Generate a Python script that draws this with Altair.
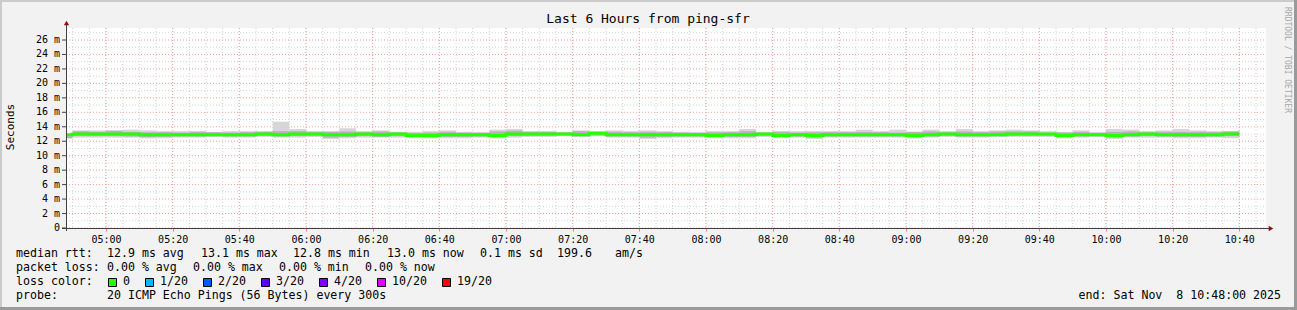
import altair as alt
import pandas as pd

FONT = "DejaVu Sans Mono"
BG = "#f2f2f2"
W, H = 1200, 200
PL, PT = 66, 28  # plot origin in page pixels

# ---- data: minutes after 04:48; 5-minute steps aligned on the clock (first one partial) ----
bin_start = [0] + list(range(2, 348, 5))
bin_end = [2] + list(range(7, 353, 5))
med = [12.9, 13.0, 13.0, 13.0, 13.0, 12.9, 12.9, 12.9, 12.9, 12.9, 12.9,
       12.9, 13.0, 12.9, 13.0, 13.0, 12.9, 12.9, 13.0, 12.9, 13.0,
       12.8, 12.8, 12.9, 12.9, 12.9, 12.8, 13.0, 13.0, 13.0, 13.0,
       12.9, 13.1, 12.9, 12.9, 12.9, 12.9, 12.9, 12.9, 12.8, 12.9,
       12.9, 13.0, 12.8, 12.9, 12.8, 12.9, 12.9, 12.9, 12.9, 12.9,
       12.8, 12.9, 13.0, 12.9, 12.9, 12.9, 13.0, 13.0, 13.0, 12.8,
       12.9, 12.9, 12.8, 12.9, 13.0, 12.9, 12.9, 12.9, 12.9, 13.0]
lo = [12.35, 12.5, 12.5, 12.5, 12.5, 12.4, 12.4, 12.5, 12.5, 12.6, 12.5,
      12.5, 12.6, 12.5, 12.5, 12.6, 12.3, 12.4, 12.5, 12.5, 12.5,
      12.5, 12.4, 12.4, 12.4, 12.5, 12.4, 12.5, 12.6, 12.6, 12.7,
      12.6, 12.7, 12.5, 12.5, 12.3, 12.4, 12.5, 12.5, 12.5, 12.4,
      12.4, 12.6, 12.5, 12.5, 12.3, 12.5, 12.5, 12.5, 12.5, 12.5,
      12.4, 12.5, 12.6, 12.5, 12.5, 12.6, 12.6, 12.6, 12.6, 12.4,
      12.5, 12.6, 12.3, 12.5, 12.5, 12.5, 12.4, 12.4, 12.5, 12.4]
hi = [13.0, 13.5, 13.5, 13.5, 13.6, 13.5, 13.4, 13.4, 13.4, 13.3, 13.4,
      13.4, 13.3, 14.7, 13.7, 13.4, 13.4, 13.8, 13.4, 13.5, 13.3,
      13.3, 13.4, 13.5, 13.3, 13.3, 13.6, 13.7, 13.4, 13.4, 13.3,
      13.5, 13.4, 13.5, 13.4, 13.5, 13.4, 13.3, 13.3, 13.4, 13.4,
      13.7, 13.3, 13.4, 13.4, 13.4, 13.4, 13.4, 13.6, 13.4, 13.6,
      13.3, 13.6, 13.4, 13.7, 13.4, 13.5, 13.6, 13.5, 13.4, 13.3,
      13.5, 13.3, 13.7, 13.6, 13.4, 13.5, 13.7, 13.5, 13.4, 13.4]
ihi = [12.95, 13.4, 13.3, 13.45, 13.3, 13.25, 13.25, 13.2, 13.3, 13.25, 13.2,
       13.25, 13.35, 13.4, 13.4, 13.25, 13.3, 13.35, 13.25, 13.35, 13.2,
       13.15, 13.2, 13.3, 13.2, 13.15, 13.35, 13.45, 13.3, 13.3, 13.2,
       13.4, 13.25, 13.3, 13.25, 13.3, 13.25, 13.2, 13.15, 13.25, 13.25,
       13.4, 13.15, 13.3, 13.2, 13.25, 13.25, 13.25, 13.3, 13.25, 13.2,
       13.3, 13.35, 13.25, 13.35, 13.25, 13.35, 13.35, 13.35, 13.15, 13.2,
       13.3, 13.15, 13.3, 13.35, 13.25, 13.3, 13.3, 13.3, 13.25, 13.35]
ilo = [12.45, 12.7, 12.7, 12.7, 12.65, 12.55, 12.6, 12.65, 12.65, 12.7, 12.65,
       12.65, 12.75, 12.65, 12.7, 12.75, 12.5, 12.6, 12.7, 12.6, 12.7,
       12.55, 12.55, 12.6, 12.6, 12.65, 12.55, 12.7, 12.75, 12.75, 12.8,
       12.7, 12.8, 12.65, 12.65, 12.5, 12.6, 12.65, 12.65, 12.55, 12.6,
       12.6, 12.75, 12.55, 12.65, 12.5, 12.65, 12.65, 12.65, 12.65, 12.65,
       12.55, 12.65, 12.75, 12.65, 12.65, 12.7, 12.75, 12.75, 12.75, 12.55,
       12.65, 12.7, 12.5, 12.65, 12.7, 12.65, 12.6, 12.6, 12.65, 12.7]

y_major = [0, 2, 4, 6, 8, 10, 12, 14, 16, 18, 20, 22, 24, 26]
y_labels = ["0\u00a0\u00a0", "2 m", "4 m", "6 m", "8 m", "10 m", "12 m", "14 m",
            "16 m", "18 m", "20 m", "22 m", "24 m", "26 m"]
y_minor = [1, 3, 5, 7, 9, 11, 13, 15, 17, 19, 21, 23, 25, 27]
x_major = list(range(12, 360, 20))      # 05:00, 05:20, ... 10:40
x_minor = list(range(2, 360, 5))        # every 5 minutes

loss_labels = ["0", "1/20", "2/20", "3/20", "4/20", "10/20", "19/20"]
loss_colors = ["#26ff00", "#00b8ff", "#0059ff", "#5e00ff", "#7e00ff", "#dd00ff", "#ff0000"]

bins = pd.DataFrame({"t0": bin_start, "t1": bin_end,
                     "med": med, "lo": lo, "hi": hi, "ilo": ilo, "ihi": ihi})
line_df = pd.DataFrame({"t": bin_start + [bin_end[-1]], "m": med + [med[-1]]})
ylab_df = pd.DataFrame({"v": y_major, "lab": y_labels})

xs = alt.Scale(domain=[0, 360], nice=False, zero=False)
ys = alt.Scale(domain=[0, 27.66], nice=False, zero=True)

one = pd.DataFrame({"k": [0]})


def Y(field):
    return alt.Y(field, scale=ys, title=None, axis=None)


def txt(s, x, y, size=11.6, align="left", color="black", angle=None, baseline="middle"):
    kw = dict(text=s, font=FONT, fontSize=size, align=align, baseline=baseline, color=color)
    if angle is not None:
        kw["angle"] = angle
    return alt.Chart(one).mark_text(**kw).encode(x=alt.value(x - PL), y=alt.value(y - PT))


def box(x0, y0, x1, y1, fill, stroke=None):
    kw = dict(fill=fill)
    if stroke:
        kw.update(stroke=stroke, strokeWidth=1)
    return alt.Chart(one).mark_rect(**kw).encode(
        x=alt.value(x0 - PL), x2=alt.value(x1 - PL), y=alt.value(y0 - PT), y2=alt.value(y1 - PT))


layers = []

# grid
layers.append(alt.Chart(pd.DataFrame({"v": x_minor})).mark_rule(
    color="#d2d2d2", strokeWidth=1, strokeDash=[1, 2]).encode(
    x=alt.X("v:Q", scale=xs, title=None), y=alt.value(0), y2=alt.value(H)))
layers.append(alt.Chart(pd.DataFrame({"v": y_minor})).mark_rule(
    color="#d2d2d2", strokeWidth=1, strokeDash=[1, 2]).encode(
    y=Y("v:Q"), x=alt.value(0), x2=alt.value(W)))
layers.append(alt.Chart(pd.DataFrame({"v": x_major})).mark_rule(
    color="#f4a0a0", strokeWidth=1, strokeDash=[1, 2]).encode(
    x=alt.X("v:Q", scale=xs, title=None,
            axis=alt.Axis(values=x_major, grid=False, domain=False, ticks=True, tickColor="#f08080",
                          tickSize=3, labelFont=FONT, labelFontSize=10, labelColor="black",
                          labelPadding=3, labelOverlap=False,
                          labelExpr="timeFormat(datetime(2025, 10, 8, 4, 48 + datum.value), '%H:%M')")),
    y=alt.value(0), y2=alt.value(H)))
layers.append(alt.Chart(pd.DataFrame({"v": y_major})).mark_rule(
    color="#f4a0a0", strokeWidth=1, strokeDash=[1, 2]).encode(
    y=Y("v:Q"), x=alt.value(0), x2=alt.value(W)))

# y ticks and labels
layers.append(alt.Chart(ylab_df).mark_rule(color="#444444", strokeWidth=1).encode(
    y=Y("v:Q"), x=alt.value(-4), x2=alt.value(0)))
layers.append(alt.Chart(ylab_df).mark_text(font=FONT, fontSize=10, align="right", baseline="middle",
                                           color="black").encode(
    y=Y("v:Q"), x=alt.value(-6), text="lab:N"))

# smoke
layers.append(alt.Chart(bins).mark_rect(color="#d6d6d6").encode(
    x=alt.X("t0:Q", scale=xs, title=None), x2="t1:Q", y=Y("lo:Q"), y2="hi:Q"))
layers.append(alt.Chart(bins).mark_rect(color="#b4b4b4").encode(
    x=alt.X("t0:Q", scale=xs, title=None), x2="t1:Q", y=Y("ilo:Q"), y2="ihi:Q"))
# median line
layers.append(alt.Chart(line_df).mark_line(
    color="#26ff00", strokeWidth=3, interpolate="step-after").encode(
    x=alt.X("t:Q", scale=xs, title=None), y=Y("m:Q")))

# axis lines and arrows
AX = "#404040"
ARROW = "#8b1010"
layers.append(alt.Chart(one).mark_rule(color=AX, strokeWidth=1).encode(
    x=alt.value(0.5), y=alt.value(H + 3), y2=alt.value(-4)))
layers.append(alt.Chart(one).mark_rule(color=AX, strokeWidth=1).encode(
    x=alt.value(-4), x2=alt.value(W + 4), y=alt.value(H + 0.5)))
layers.append(alt.Chart(one).mark_point(shape="triangle-up", filled=True, size=28, color=ARROW, opacity=1).encode(
    x=alt.value(0.5), y=alt.value(-5)))
layers.append(alt.Chart(one).mark_point(shape="triangle-right", filled=True, size=28, color=ARROW, opacity=1).encode(
    x=alt.value(W + 5), y=alt.value(H + 0.5)))

# frame
layers.append(box(0, 0, 1297, 2, "#cbcbcb"))
layers.append(box(0, 0, 2, 310, "#cbcbcb"))
layers.append(box(0, 307, 1297, 310, "#9a9a9a"))
layers.append(box(1294, 0, 1297, 310, "#9a9a9a"))

# titles
layers.append(txt("Last 6 Hours from ping-sfr", 648, 19, size=13, align="center"))
layers.append(txt("Seconds", 11, 127, size=11, align="center", angle=270))
layers.append(txt("RRDTOOL / TOBI OETIKER", 1287, 60, size=8, align="center", color="#a8a8a8", angle=90))

# legend
L1, L2, L3, L4 = 254, 268, 282, 296
for s, x in [("median rtt:", 16), ("12.9 ms avg", 107), ("13.1 ms max", 201), ("12.8 ms min", 293),
             ("13.0 ms now", 387), ("0.1 ms sd", 480), ("199.6", 557), ("am/s", 615)]:
    layers.append(txt(s, x, L1))
for s, x in [("packet loss:", 16), ("0.00 % avg", 107), ("0.00 % max", 193), ("0.00 % min", 279),
             ("0.00 % now", 365)]:
    layers.append(txt(s, x, L2))
layers.append(txt("loss color:", 16, L3))
box_x = [108, 145, 203, 261, 319, 377, 442]
for lab, col, bx in zip(loss_labels, loss_colors, box_x):
    layers.append(box(bx + 0.5, 278.5, bx + 8.5, 286.5, col, stroke="black"))
    layers.append(txt(lab, bx + 15, L3))
layers.append(txt("probe:", 16, L4))
layers.append(txt("20 ICMP Echo Pings (56 Bytes) every 300s", 107, L4))
layers.append(txt("end: Sat Nov\u00a0 8 10:48:00 2025", 1281, L4, align="right"))

chart = alt.layer(*layers).properties(
    width=W, height=H, background=BG,
    padding={"left": PL, "top": PT, "right": 1297 - PL - W, "bottom": 310 - PT - H},
    autosize=alt.AutoSizeParams(type="none"),
).configure_view(fill="white", stroke=None)

chart.save("out.html", embed_options={"renderer": "svg", "actions": False})
